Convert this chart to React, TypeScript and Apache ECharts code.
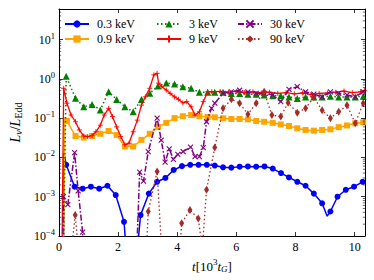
import React, { useEffect, useRef } from 'react';
import * as echarts from 'echarts';

const FONT = "'Liberation Serif', 'DejaVu Serif', serif";

const X_MIN = 0;
const X_MAX = 10.35;
const Y_MIN = 1e-4;
const Y_MAX = 60;

const names = ['0.3 keV', '0.9 keV', '3 keV', '9 keV', '30 keV', '90 keV'];
const colors = ['#0000ff', '#ffa500', '#008000', '#ff0000', '#800080', '#a52a2a'];

// 0.3 keV
const t03 = [0.14, 0.17, 0.245, 0.53, 0.80, 1.08, 1.36, 1.64, 1.92, 2.20, 2.30, 2.62, 2.76, 3.04, 3.32, 3.60, 3.88, 4.16, 4.44, 4.72, 5.00, 5.27, 5.55, 5.83, 6.11, 6.39, 6.67, 6.95, 7.23, 7.51, 7.78, 8.06, 8.34, 8.62, 8.90, 9.07, 9.18, 9.42, 9.70, 9.98, 10.27];
const v03 = [1e-6, 1.3e-2, 6.5e-3, 1.8e-3, 1.6e-3, 1.8e-3, 1.6e-3, 1.9e-3, 1.1e-3, 2.3e-4, 2.5e-5, 2.5e-5, 3.4e-4, 1.2e-3, 2.4e-3, 3.0e-3, 4.8e-3, 6.0e-3, 6.5e-3, 6.5e-3, 6.5e-3, 6.2e-3, 5.6e-3, 5.5e-3, 5.8e-3, 5.9e-3, 5.8e-3, 5.9e-3, 5.2e-3, 4.0e-3, 3.1e-3, 2.4e-3, 1.9e-3, 1.2e-3, 6.8e-4, 3.2e-4, 4.2e-4, 1.0e-3, 1.5e-3, 1.8e-3, 2.4e-3];
const lineOnly03 = [0.14, 0.17, 2.30, 2.62, 9.07];

// 0.9 keV
const t09 = [0.13, 0.20, 0.27, 0.56, 0.84, 1.12, 1.40, 1.68, 1.95, 2.23, 2.51, 2.79, 3.07, 3.35, 3.63, 3.91, 4.19, 4.47, 4.75, 5.03, 5.27, 5.55, 5.83, 6.11, 6.39, 6.67, 6.94, 7.23, 7.50, 7.78, 8.06, 8.34, 8.62, 8.90, 9.18, 9.46, 9.74, 10.02, 10.29];
const v09 = [1e-6, 0.105, 0.085, 0.035, 0.032, 0.035, 0.040, 0.047, 0.037, 0.019, 0.019, 0.028, 0.040, 0.060, 0.076, 0.10, 0.112, 0.12, 0.112, 0.108, 0.105, 0.099, 0.095, 0.095, 0.093, 0.085, 0.081, 0.076, 0.069, 0.063, 0.055, 0.050, 0.048, 0.050, 0.052, 0.059, 0.065, 0.074, 0.078];
const lineOnly09 = [0.13, 0.20];

// 3 keV
const t3 = [0.12, 0.245, 0.56, 0.84, 1.12, 1.40, 1.68, 1.95, 2.23, 2.51, 2.79, 3.07, 3.35, 3.63, 3.91, 4.19, 4.47, 4.75, 5.03, 5.27, 5.55, 5.83, 6.11, 6.39, 6.67, 6.94, 7.23, 7.50, 7.78, 8.06, 8.34, 8.62, 8.90, 9.18, 9.46, 9.74, 10.02, 10.29];
const v3 = [1e-6, 1.17, 0.32, 0.195, 0.224, 0.162, 0.47, 0.30, 0.195, 0.145, 0.30, 0.43, 0.66, 0.79, 0.74, 0.63, 0.575, 0.457, 0.457, 0.457, 0.457, 0.427, 0.427, 0.407, 0.407, 0.389, 0.372, 0.372, 0.347, 0.316, 0.347, 0.347, 0.347, 0.363, 0.347, 0.347, 0.347, 0.363];
const lineOnly3 = [0.12];

// 9 keV
const t9 = [0.08, 0.16, 0.27, 0.41, 0.56, 0.69, 0.84, 0.97, 1.12, 1.25, 1.40, 1.53, 1.68, 1.81, 1.95, 2.09, 2.23, 2.37, 2.51, 2.65, 2.79, 2.92, 3.07, 3.21, 3.32, 3.37, 3.48, 3.63, 3.76, 3.91, 4.04, 4.19, 4.32, 4.47, 4.60, 4.75, 4.88, 5.03, 5.17, 5.45, 5.73, 6.00, 6.28, 6.56, 6.84, 7.12, 7.40, 7.68, 7.96, 8.24, 8.52, 8.80, 9.08, 9.36, 9.64, 9.92, 10.20, 10.33];
const v9 = [1e-6, 0.575, 0.240, 0.120, 0.081, 0.050, 0.035, 0.034, 0.036, 0.045, 0.066, 0.120, 0.178, 0.110, 0.060, 0.034, 0.021, 0.023, 0.045, 0.089, 0.214, 0.347, 0.575, 1.26, 1.38, 0.776, 0.631, 0.519, 0.427, 0.347, 0.302, 0.245, 0.263, 0.195, 0.120, 0.145, 0.263, 0.468, 0.468, 0.479, 0.457, 0.479, 0.447, 0.468, 0.437, 0.457, 0.427, 0.447, 0.417, 0.437, 0.398, 0.427, 0.437, 0.457, 0.490, 0.447, 0.468, 0.501];
const lineOnly9 = [0.08];

// 30 keV
const t30 = [0.10, 0.15, 0.30, 0.53, 0.65, 0.80, 0.90, 2.55, 2.73, 2.86, 3.02, 3.32, 3.46, 3.59, 3.73, 3.87, 4.02, 4.20, 4.45, 4.60, 4.75, 4.88, 4.99, 5.16, 5.27, 5.55, 5.83, 6.11, 6.39, 6.67, 6.94, 7.23, 7.50, 7.78, 8.06, 8.34, 8.62, 8.90, 9.18, 9.46, 9.74, 10.02, 10.29];
const v30 = [1e-6, 1.0e-3, 6.3e-4, 0.0132, 1.41e-3, 1.26e-4, 1e-6, 1e-6, 4.2e-3, 2.5e-3, 0.0141, 0.100, 0.0275, 7.6e-3, 0.0166, 8.9e-3, 0.012, 0.0141, 0.0182, 0.0105, 0.0105, 0.0178, 0.081, 0.178, 0.240, 0.427, 0.468, 0.513, 0.468, 0.427, 0.427, 0.389, 0.263, 0.537, 0.631, 0.468, 0.407, 0.347, 0.468, 0.427, 0.389, 0.347, 0.468];
const lineOnly30 = [0.10];

// 90 keV
const t90 = [0.40, 0.55, 0.68, 2.85, 3.02, 3.32, 3.60, 3.95, 4.15, 4.43, 4.71, 4.85, 4.99, 5.27, 5.55, 5.83, 6.11, 6.39, 6.67, 6.94, 7.20, 7.50, 7.75, 8.06, 8.34, 8.62, 8.90, 9.18, 9.46, 9.74, 10.02, 10.29];
const v90 = [3e-5, 3.4e-4, 3e-5, 1e-6, 4.2e-4, 4.4e-3, 1e-6, 1e-6, 2.1e-4, 4.6e-4, 2.8e-4, 5e-5, 1.5e-3, 0.018, 0.178, 0.302, 0.240, 0.126, 0.240, 0.468, 0.120, 0.110, 0.245, 0.138, 0.178, 0.339, 0.158, 0.100, 0.145, 0.214, 0.074, 0.240];
const lineOnly90: number[] = [];

// axis structure: y minor ticks (multipliers within each decade)
const minorMultipliers = [2, 3, 4, 5, 6, 7, 8, 9];
const decadeExponents = [-4, -3, -2, -1, 0, 1];

const PLUS = 'path://M0,5L10,5M5,0L5,10';
const CROSS = 'path://M0,0L10,10M10,0L0,10';

function makeSeries(
  idx: number,
  ts: number[],
  vs: number[],
  lineOnly: number[],
  symbol: string,
  symbolSize: number | number[],
  lineType: any,
  width: number,
  strokeWidth: number
) {
  const color = colors[idx];
  return {
    name: names[idx],
    type: 'line',
    xAxisIndex: 0,
    yAxisIndex: 0,
    data: ts.map((t, i) =>
      lineOnly.indexOf(t) >= 0 ? { value: [t, vs[i]], symbol: 'none' } : [t, vs[i]]
    ),
    symbol,
    symbolSize,
    showSymbol: true,
    clip: true,
    z: 2 + idx,
    lineStyle: { color, width, type: lineType },
    itemStyle: strokeWidth > 0
      ? { color, borderColor: color, borderWidth: strokeWidth }
      : { color, borderWidth: 0 },
    emphasis: { disabled: true },
  };
}

const legendBase = {
  orient: 'vertical',
  padding: 0,
  itemWidth: 24,
  itemHeight: 9,
  itemGap: 1,
  selectedMode: false,
  textStyle: { fontFamily: FONT, fontSize: 12, color: '#000', lineHeight: 14, padding: [0, 0, 0, 3] },
};

export default function App() {
  const ref = useRef<HTMLDivElement>(null);
  useEffect(() => {
    if (!ref.current) return;
    const chart = echarts.init(ref.current, undefined, { renderer: 'svg' });

    const minorVals: number[] = [];
    decadeExponents.forEach((e) =>
      minorMultipliers.forEach((m) => {
        const v = m * Math.pow(10, e);
        if (v < Y_MAX) minorVals.push(v);
      })
    );

    const axisLineStyle = { color: '#000', width: 1 };
    const ySupRich = {
      b: { fontFamily: FONT, fontSize: 12, color: '#000' },
      s: { fontFamily: FONT, fontSize: 8.5, color: '#000', padding: [0, 0, 8, 0] },
    };

    const option: any = {
      animation: false,
      backgroundColor: '#ffffff',
      grid: { left: 56, right: 9, top: 9, bottom: 44, containLabel: false },
      legend: [
        { ...legendBase, data: [names[0], names[1]], left: 64, top: 17 },
        { ...legendBase, data: [names[2], names[3]], left: 156, top: 17 },
        { ...legendBase, data: [names[4], names[5]], left: 237, top: 17 },
      ],
      xAxis: [
        {
          type: 'value',
          min: X_MIN,
          max: X_MAX,
          interval: 2,
          position: 'bottom',
          axisLine: { onZero: false, lineStyle: axisLineStyle },
          axisTick: { inside: true, length: 4, lineStyle: { color: '#000', width: 0.8 } },
          axisLabel: {
            color: '#000',
            fontFamily: FONT,
            fontSize: 12,
            margin: 5,
            formatter: (v: number) => (Math.abs(v / 2 - Math.round(v / 2)) < 1e-9 ? String(v) : ''),
          },
          splitLine: { show: false },
          name: '{i|t}{r|[10}{s|3}{i|t}{g|G}{r|]}',
          nameLocation: 'middle',
          nameGap: 17,
          nameTextStyle: {
            rich: {
              i: { fontFamily: FONT, fontSize: 13, fontStyle: 'italic', color: '#000' },
              r: { fontFamily: FONT, fontSize: 13, color: '#000' },
              s: { fontFamily: FONT, fontSize: 9, color: '#000', padding: [0, 0, 8, 0] },
              g: { fontFamily: FONT, fontSize: 9, fontStyle: 'italic', color: '#000', padding: [6, 0, 0, 0] },
            },
          },
        },
        {
          type: 'value',
          min: X_MIN,
          max: X_MAX,
          interval: 2,
          position: 'top',
          axisLine: { onZero: false, lineStyle: axisLineStyle },
          axisTick: { inside: true, length: 4, lineStyle: { color: '#000', width: 0.8 } },
          axisLabel: { show: false },
          splitLine: { show: false },
        },
      ],
      yAxis: [
        {
          type: 'log',
          logBase: 10,
          min: Y_MIN,
          max: Y_MAX,
          position: 'left',
          axisLine: { onZero: false, lineStyle: axisLineStyle },
          axisTick: { inside: true, length: 4, lineStyle: { color: '#000', width: 0.8 } },
          axisLabel: {
            margin: 4,
            formatter: (v: number) => {
              const l = Math.log10(v);
              const e = Math.round(l);
              if (Math.abs(l - e) > 1e-6) return '';
              return '{b|10}{s|' + (e < 0 ? '\u2212' + -e : String(e)) + '}';
            },
            rich: ySupRich,
          },
          splitLine: { show: false },
          name: '{i|L}{n|\u03bd}{r|/}{i|L}{e|Edd}',
          nameLocation: 'middle',
          nameRotate: 90,
          nameGap: 33,
          nameTextStyle: {
            rich: {
              i: { fontFamily: FONT, fontSize: 14, fontStyle: 'italic', color: '#000' },
              r: { fontFamily: FONT, fontSize: 14, color: '#000' },
              n: { fontFamily: FONT, fontSize: 10, fontStyle: 'italic', color: '#000', padding: [6, 0, 0, 0] },
              e: { fontFamily: FONT, fontSize: 10, color: '#000', padding: [6, 0, 0, 0] },
            },
          },
        },
        {
          type: 'log',
          logBase: 10,
          min: Y_MIN,
          max: Y_MAX,
          position: 'right',
          axisLine: { onZero: false, lineStyle: axisLineStyle },
          axisTick: { inside: true, length: 4, lineStyle: { color: '#000', width: 0.8 } },
          axisLabel: { show: false },
          splitLine: { show: false },
        },
      ],
      series: [
        makeSeries(0, t03, v03, lineOnly03, 'circle', 6, 'solid', 1.5, 0),
        makeSeries(1, t09, v09, lineOnly09, 'rect', 6, 'solid', 1.5, 0),
        makeSeries(2, t3, v3, lineOnly3, 'triangle', 7, [1.5, 2.5], 1.5, 0),
        makeSeries(3, t9, v9, lineOnly9, PLUS, 5, 'solid', 1.3, 0.9),
        makeSeries(4, t30, v30, lineOnly30, CROSS, 5, [6, 2, 1.5, 2], 1.5, 1.1),
        makeSeries(5, t90, v90, lineOnly90, 'diamond', [5, 8], [1.5, 2.5], 1.3, 0),
        {
          type: 'custom',
          name: 'minorTicks',
          xAxisIndex: 0,
          yAxisIndex: 0,
          silent: true,
          clip: false,
          z: 20,
          data: minorVals.map((v) => [X_MIN, v]),
          encode: { x: 0, y: 1 },
          renderItem: (_params: any, api: any) => {
            const v = api.value(1);
            const pL = api.coord([X_MIN, v]);
            const pR = api.coord([X_MAX, v]);
            return {
              type: 'group',
              children: [
                { type: 'line', shape: { x1: pL[0], y1: pL[1], x2: pL[0] + 2.2, y2: pL[1] }, style: { stroke: '#000', lineWidth: 0.6 } },
                { type: 'line', shape: { x1: pR[0] - 2.2, y1: pR[1], x2: pR[0], y2: pR[1] }, style: { stroke: '#000', lineWidth: 0.6 } },
              ],
            };
          },
        },
      ],
    };

    chart.setOption(option);
    return () => chart.dispose();
  }, []);

  return (
    <div
      ref={ref}
      style={{ position: 'absolute', left: 0, top: 0, width: 374, height: 280, background: '#fff' }}
    />
  );
}
